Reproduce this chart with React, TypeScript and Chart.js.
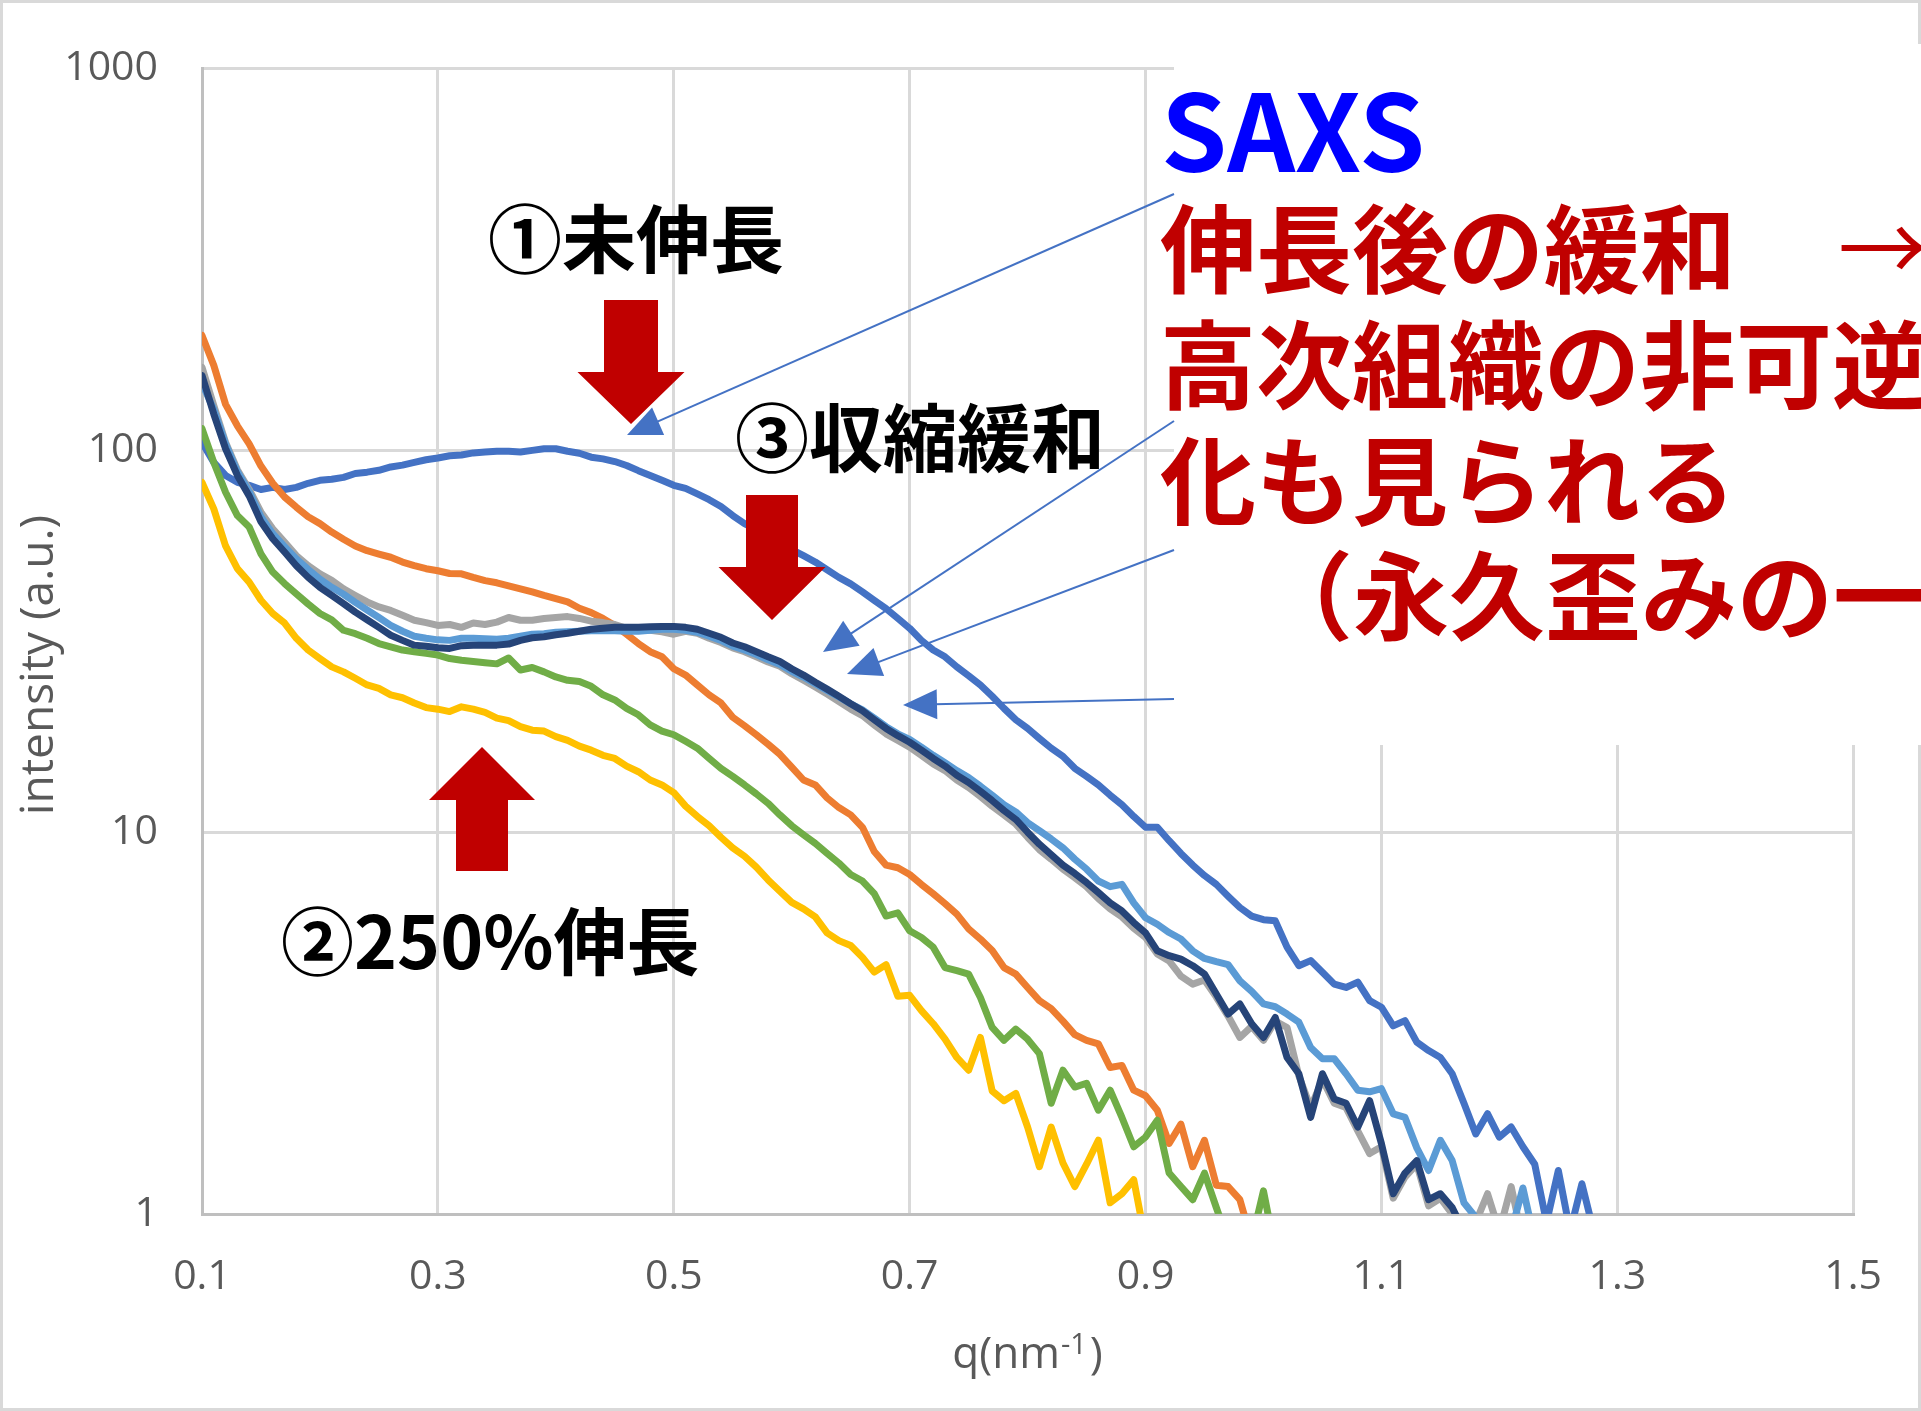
import React, { useEffect, useRef } from "react";
import { Chart, registerables } from "chart.js";

Chart.register(...registerables);

const W = 1921;
const H = 1411;

// scattering vector q (nm^-1), common sampling of every profile
const Q = [
  0.10, 0.11, 0.12, 0.13, 0.14, 0.15, 0.16, 0.17, 0.18, 0.19,
  0.20, 0.21, 0.22, 0.23, 0.24, 0.25, 0.26, 0.27, 0.28, 0.29,
  0.30, 0.31, 0.32, 0.33, 0.34, 0.35, 0.36, 0.37, 0.38, 0.39,
  0.40, 0.41, 0.42, 0.43, 0.44, 0.45, 0.46, 0.47, 0.48, 0.49,
  0.50, 0.51, 0.52, 0.53, 0.54, 0.55, 0.56, 0.57, 0.58, 0.59,
  0.60, 0.61, 0.62, 0.63, 0.64, 0.65, 0.66, 0.67, 0.68, 0.69,
  0.70, 0.71, 0.72, 0.73, 0.74, 0.75, 0.76, 0.77, 0.78, 0.79,
  0.80, 0.81, 0.82, 0.83, 0.84, 0.85, 0.86, 0.87, 0.88, 0.89,
  0.90, 0.91, 0.92, 0.93, 0.94, 0.95, 0.96, 0.97, 0.98, 0.99,
  1.00, 1.01, 1.02, 1.03, 1.04, 1.05, 1.06, 1.07, 1.08, 1.09,
  1.10, 1.11, 1.12, 1.13, 1.14, 1.15, 1.16, 1.17, 1.18, 1.19,
  1.20, 1.21, 1.22, 1.23, 1.24, 1.25, 1.26, 1.27, 1.28,
];

const X_TICKS = [0.1, 0.3, 0.5, 0.7, 0.9, 1.1, 1.3, 1.5];
const Y_TICKS = [1, 10, 100, 1000];

// intensity (a.u.) of each profile, aligned with Q
const CURVE_BLUE = [
  105, 93, 86, 82.5, 81, 79, 80, 79, 80, 82,
  83.5, 84, 85, 87, 87.7, 88.7, 90.5, 91.5, 93, 94.5,
  95.5, 96.8, 97.3, 98.5, 99, 99.5, 99.5, 99, 100, 101,
  101, 99.5, 98.3, 96, 95, 93.5, 91.3, 88.5, 86, 83.5,
  81, 79.5, 76.9, 74.3, 71.3, 67.5, 64.3, 62, 59.8, 57.7,
  55, 53, 51, 48.7, 46.5, 44.7, 42.6, 40.5, 38.5, 36.3,
  34.2, 31.8, 30, 28.8, 27.1, 25.7, 24.3, 22.7, 21.1, 19.7,
  18.7, 17.6, 16.6, 15.8, 14.7, 14, 13.3, 12.5, 11.8, 11,
  10.3, 10.3, 9.5, 8.8, 8.2, 7.7, 7.3, 6.8, 6.35, 6.03,
  5.9, 5.86, 5.0, 4.47, 4.61, 4.3, 4.0, 3.92, 4.05, 3.62,
  3.48, 3.11, 3.21, 2.82, 2.68, 2.57, 2.33, 1.95, 1.62, 1.83,
  1.59, 1.69, 1.5, 1.35, 0.95, 1.3, 0.9, 1.2, 0.9,
];

const CURVE_ORANGE = [
  200, 167, 132, 116, 104, 91, 82, 75.5, 71, 67,
  64.3, 61.1, 58.5, 56.2, 54.6, 53.5, 52.5, 51, 49.9, 49,
  48.4, 47.6, 47.5, 46.5, 45.6, 45, 44.2, 43.4, 42.6, 41.7,
  40.9, 40.1, 38.6, 37.6, 36.3, 34.8, 33, 31.2, 29.7, 28.8,
  26.8, 25.8, 24.3, 22.9, 21.8, 20, 19, 18, 17, 16,
  14.8, 13.7, 13.3, 12.3, 11.6, 11.1, 10.3, 8.9, 8.2, 8.07,
  7.75, 7.3, 6.9, 6.5, 6.1, 5.58, 5.25, 4.9, 4.42, 4.25,
  3.92, 3.62, 3.45, 3.2, 2.95, 2.85, 2.79, 2.42, 2.45, 2.11,
  2.04, 1.87, 1.53, 1.72, 1.33, 1.56, 1.19, 1.18, 1.09, 0.85,
];

const CURVE_GRAY = [
  165, 131, 105, 89, 79, 68.9, 62.3, 57.5, 53, 49.9,
  47.5, 45.7, 43.4, 41.7, 40.1, 38.9, 38.1, 37, 35.9, 35.4,
  34.8, 35, 34.4, 35.3, 35, 35.5, 36.5, 35.9, 35.9, 36.3,
  36.5, 36.7, 36.3, 35.7, 35.4, 35, 34.2, 34, 33.8, 33.5,
  33, 33.6, 33.2, 32.2, 31.4, 30.4, 29.7, 28.8, 27.9, 27.2,
  26, 25, 24, 23, 22, 21, 20.2, 19.1, 18.1, 17.4,
  16.7, 15.9, 15.1, 14.5, 13.7, 13.1, 12.4, 11.7, 11.1, 10.5,
  9.7, 9, 8.5, 8, 7.6, 7.2, 6.7, 6.3, 6, 5.6,
  5.3, 4.8, 4.6, 4.2, 4, 4.1, 3.7, 3.3, 2.9, 3.1,
  2.85, 3.2, 3.08, 2.3, 1.9, 2.25, 1.95, 1.9, 1.65, 1.44,
  1.5, 1.1, 1.25, 1.35, 1.05, 1.1, 1, 0.9, 0.95, 1.13,
  0.9, 1.18, 0.85,
];

const CURVE_YELLOW = [
  82.5, 70.3, 56.2, 49, 45.2, 40.5, 37.4, 35.3, 32.2, 30,
  28.5, 27.1, 26.3, 25.3, 24.3, 23.8, 22.9, 22.5, 21.8, 21.2,
  21, 20.7, 21.3, 21, 20.6, 19.9, 19.6, 18.9, 18.5, 18.4,
  17.8, 17.4, 16.8, 16.4, 15.9, 15.6, 14.9, 14.4, 13.7, 13.3,
  12.7, 11.7, 11, 10.4, 9.7, 9.1, 8.65, 8.1, 7.5, 7,
  6.55, 6.3, 6, 5.45, 5.2, 5.05, 4.7, 4.3, 4.5, 3.72,
  3.74, 3.41, 3.15, 2.87, 2.57, 2.38, 2.9, 2.1, 1.98, 2.07,
  1.69, 1.33, 1.69, 1.36, 1.18, 1.35, 1.56, 1.07, 1.13, 1.23,
  0.85,
];

const CURVE_LIGHTBLUE = [
  150, 128, 104, 88, 78, 67, 60.5, 56, 52, 48.8,
  46, 43.8, 42, 40, 38.2, 36.5, 34.8, 33.6, 32.6, 32.2,
  31.9, 31.8, 32.2, 32.2, 32.1, 32, 32.2, 32.6, 33, 33.1,
  33.4, 33.5, 33.6, 33.7, 33.7, 33.7, 33.6, 33.6, 33.8, 34,
  34, 33.8, 33.4, 32.6, 31.8, 30.7, 30, 29.2, 28.3, 27.5,
  26.4, 25.5, 24.5, 23.5, 22.6, 21.7, 20.9, 19.9, 18.9, 18.1,
  17.5, 16.7, 15.9, 15.2, 14.5, 13.9, 13.2, 12.5, 11.8, 11.3,
  10.6, 10.1, 9.6, 9.1, 8.5, 8, 7.45, 7.2, 7.3, 6.53,
  5.97, 5.74, 5.46, 5.25, 4.89, 4.67, 4.58, 4.5, 4.08, 3.83,
  3.55, 3.49, 3.34, 3.18, 2.73, 2.55, 2.55, 2.33, 2.11, 2.09,
  2.13, 1.83, 1.79, 1.49, 1.3, 1.56, 1.38, 1.07, 0.98, 0.9,
  0.85, 0.9, 1.17, 0.85,
];

const CURVE_GREEN = [
  114, 93, 77.7, 67.5, 63, 53.6, 48, 44.8, 42.1, 39.6,
  37.4, 36, 33.8, 33.1, 32.2, 31.2, 30.6, 30, 29.7, 29.4,
  29.1, 28.5, 28.2, 28, 27.8, 27.6, 28.6, 26.6, 27, 26.3,
  25.5, 25, 24.8, 24.1, 22.9, 22.2, 21.1, 20.3, 19.1, 18.4,
  18, 17.3, 16.6, 15.6, 14.7, 14, 13.3, 12.6, 11.9, 11.1,
  10.4, 9.85, 9.35, 8.8, 8.3, 7.75, 7.45, 6.9, 6.03, 6.15,
  5.52, 5.3, 5, 4.42, 4.34, 4.25, 3.69, 3.08, 2.85, 3.05,
  2.87, 2.63, 1.95, 2.38, 2.15, 2.2, 1.87, 2.11, 1.79, 1.5,
  1.59, 1.76, 1.28, 1.18, 1.09, 1.28, 1.04, 0.85, 0.8, 0.85,
  1.15, 0.8,
];

const CURVE_NAVY = [
  157, 124.5, 101, 86, 76, 65, 58.7, 54.2, 49.9, 46.5,
  43.8, 41.7, 39.7, 37.7, 36, 34.4, 32.8, 31.8, 30.9, 30.7,
  30.4, 30.3, 30.8, 30.9, 30.9, 30.9, 31.1, 31.8, 32.3, 32.5,
  32.9, 33.2, 33.6, 34, 34.2, 34.4, 34.4, 34.4, 34.5, 34.6,
  34.6, 34.4, 34, 33.2, 32.4, 31.3, 30.6, 29.7, 28.8, 28,
  26.8, 25.8, 24.7, 23.7, 22.7, 21.7, 20.8, 19.7, 18.7, 17.9,
  17.2, 16.4, 15.6, 14.9, 14.1, 13.5, 12.8, 12.1, 11.4, 10.8,
  10, 9.3, 8.74, 8.2, 7.8, 7.38, 6.95, 6.53, 6.22, 5.8,
  5.45, 4.89, 4.75, 4.65, 4.47, 4.25, 3.77, 3.34, 3.55, 3.15,
  2.9, 3.27, 2.57, 2.33, 1.79, 2.33, 2, 1.95, 1.69, 1.98,
  1.53, 1.13, 1.28, 1.38, 1.09, 1.13, 1.04, 0.9,
];

const SERIES = [
  { name: "系列1", color: "#4472C4", values: CURVE_BLUE },
  { name: "系列2", color: "#ED7D31", values: CURVE_ORANGE },
  { name: "系列3", color: "#A5A5A5", values: CURVE_GRAY },
  { name: "系列4", color: "#FFC000", values: CURVE_YELLOW },
  { name: "系列5", color: "#5B9BD5", values: CURVE_LIGHTBLUE },
  { name: "系列6", color: "#70AD47", values: CURVE_GREEN },
  { name: "系列7", color: "#264478", values: CURVE_NAVY },
];

const AXIS_FONT = "'Open Sans', 'Noto Sans', sans-serif";
const JP_FONT = "'Noto Sans CJK JP', sans-serif";
const AXIS_TEXT = "#595959";
const RED = "#C00000";
const LEADER = "#4472C4";

function blockArrow(ctx: CanvasRenderingContext2D, cx: number, shaftHalf: number, headHalf: number, yTail: number, yNeck: number, yTip: number) {
  ctx.beginPath();
  ctx.moveTo(cx - shaftHalf, yTail);
  ctx.lineTo(cx + shaftHalf, yTail);
  ctx.lineTo(cx + shaftHalf, yNeck);
  ctx.lineTo(cx + headHalf, yNeck);
  ctx.lineTo(cx, yTip);
  ctx.lineTo(cx - headHalf, yNeck);
  ctx.lineTo(cx - shaftHalf, yNeck);
  ctx.closePath();
  ctx.fill();
}

function leader(ctx: CanvasRenderingContext2D, x0: number, y0: number, x1: number, y1: number) {
  const dx = x1 - x0;
  const dy = y1 - y0;
  const len = Math.hypot(dx, dy);
  const ux = dx / len;
  const uy = dy / len;
  const headLen = 34;
  const headHalf = 15;
  const bx = x1 - ux * headLen;
  const by = y1 - uy * headLen;
  ctx.beginPath();
  ctx.moveTo(x0, y0);
  ctx.lineTo(bx + ux * 2, by + uy * 2);
  ctx.stroke();
  ctx.beginPath();
  ctx.moveTo(x1, y1);
  ctx.lineTo(bx - uy * headHalf, by + ux * headHalf);
  ctx.lineTo(bx + uy * headHalf, by - ux * headHalf);
  ctx.closePath();
  ctx.fill();
}

const annotationPlugin = {
  id: "saxsAnnotations",
  afterDraw(chart: any) {
    const ctx: CanvasRenderingContext2D = chart.ctx;
    const area = chart.chartArea;
    ctx.save();

    // outer frame of the chart
    ctx.strokeStyle = "#D9D9D9";
    ctx.lineWidth = 3;
    ctx.strokeRect(1.5, 1.5, W - 3, H - 3);

    // axis titles
    ctx.fillStyle = AXIS_TEXT;
    ctx.textBaseline = "alphabetic";
    ctx.save();
    ctx.translate(53, 665);
    ctx.rotate(-Math.PI / 2);
    ctx.textAlign = "center";
    ctx.font = `46px ${AXIS_FONT}`;
    ctx.fillText("intensity (a.u.)", 0, 0);
    ctx.restore();

    const mainFont = `44px ${AXIS_FONT}`;
    const supFont = `29px ${AXIS_FONT}`;
    ctx.textAlign = "left";
    ctx.font = mainFont;
    const wMain = ctx.measureText("q(nm").width;
    const wClose = ctx.measureText(")").width;
    ctx.font = supFont;
    const wSup = ctx.measureText("-1").width;
    let tx = (area.left + area.right) / 2 - (wMain + wSup + wClose + 4) / 2;
    ctx.font = mainFont;
    ctx.fillText("q(nm", tx, 1368);
    tx += wMain + 1;
    ctx.font = supFont;
    ctx.fillText("-1", tx, 1354);
    tx += wSup + 3;
    ctx.font = mainFont;
    ctx.fillText(")", tx, 1368);

    // white text box on the upper right
    ctx.fillStyle = "#FFFFFF";
    ctx.fillRect(1174, 44, W - 1174, 701);

    // leader lines into the box
    ctx.strokeStyle = LEADER;
    ctx.fillStyle = LEADER;
    ctx.lineWidth = 2;
    leader(ctx, 1174, 194, 627, 435);
    leader(ctx, 1174, 421, 823, 652);
    leader(ctx, 1174, 550, 847, 674);
    leader(ctx, 1174, 699, 903, 705);

    // red block arrows
    ctx.fillStyle = RED;
    blockArrow(ctx, 631, 27, 53.5, 300, 372, 424);
    blockArrow(ctx, 772, 26, 53.5, 495, 567, 620);
    blockArrow(ctx, 482, 26, 53, 871, 800, 747);

    // labels
    ctx.textAlign = "left";
    ctx.fillStyle = "#000000";
    ctx.font = `bold 74px ${JP_FONT}`;
    ctx.fillText("①未伸長", 488, 267);
    ctx.fillText("③収縮緩和", 735, 466);
    ctx.font = `bold 73px ${JP_FONT}`;
    ctx.fillText("②250%伸長", 281, 969);

    ctx.fillStyle = "#0000FF";
    ctx.font = `bold 106px ${JP_FONT}`;
    ctx.fillText("SAXS", 1161, 172);

    ctx.fillStyle = RED;
    ctx.font = `bold 96px ${JP_FONT}`;
    ctx.fillText("伸長後の緩和", 1160, 285);
    ctx.fillText("高次組織の非可逆", 1160, 401);
    ctx.fillText("化も見られる", 1160, 517);
    const parenW = ctx.measureText("（").width;
    ctx.fillText("（永久歪みの一", 1353 - parenW, 632);
    ctx.font = `90px ${JP_FONT}`;
    ctx.fillText("→", 1838, 282);

    ctx.restore();
  },
};

export default function App() {
  const canvasRef = useRef<HTMLCanvasElement | null>(null);

  useEffect(() => {
    const canvas = canvasRef.current;
    if (!canvas) return;

    const datasets = SERIES.map((s, i) => ({
      label: s.name,
      data: s.values.map((v, k) => ({ x: Q[k], y: v })),
      borderColor: s.color,
      backgroundColor: s.color,
      borderWidth: 7,
      pointRadius: 0,
      tension: 0,
      fill: false,
      borderJoinStyle: "round" as const,
      borderCapStyle: "round" as const,
      order: SERIES.length - 1 - i,
    }));

    const tickFont = { family: AXIS_FONT, size: 41 };

    const chart = new Chart(canvas, {
      type: "line",
      data: { datasets },
      options: {
        responsive: false,
        animation: false,
        devicePixelRatio: 1,
        parsing: false as any,
        layout: { padding: { left: 0, right: W - 1860, top: 67, bottom: 0 } },
        plugins: {
          legend: { display: false },
          tooltip: { enabled: false },
        },
        scales: {
          x: {
            type: "linear",
            min: 0.1,
            max: 1.5,
            afterBuildTicks: (scale: any) => {
              scale.ticks = X_TICKS.map((v) => ({ value: v }));
            },
            afterFit: (scale: any) => {
              scale.height = H - 1214;
            },
            ticks: {
              font: tickFont,
              color: AXIS_TEXT,
              padding: 39,
              maxRotation: 0,
              autoSkip: false,
              callback: (v: any) => Number(v).toFixed(1),
            },
            grid: { color: "#D9D9D9", lineWidth: 3, drawTicks: false },
            border: { color: "#BFBFBF", width: 3 },
          },
          y: {
            type: "logarithmic",
            min: 1,
            max: 1000,
            afterBuildTicks: (scale: any) => {
              scale.ticks = Y_TICKS.map((v) => ({ value: v }));
            },
            afterFit: (scale: any) => {
              scale.width = 202;
            },
            ticks: {
              font: tickFont,
              color: AXIS_TEXT,
              padding: 44,
              autoSkip: false,
              callback: (v: any) => String(v),
            },
            grid: { color: "#D9D9D9", lineWidth: 3, drawTicks: false },
            border: { color: "#BFBFBF", width: 3 },
          },
        },
      },
      plugins: [annotationPlugin],
    });

    return () => chart.destroy();
  }, []);

  return (
    <div style={{ position: "absolute", left: 0, top: 0, width: W, height: H, background: "#FFFFFF" }}>
      <canvas ref={canvasRef} width={W} height={H} style={{ display: "block", width: W, height: H }} />
    </div>
  );
}
